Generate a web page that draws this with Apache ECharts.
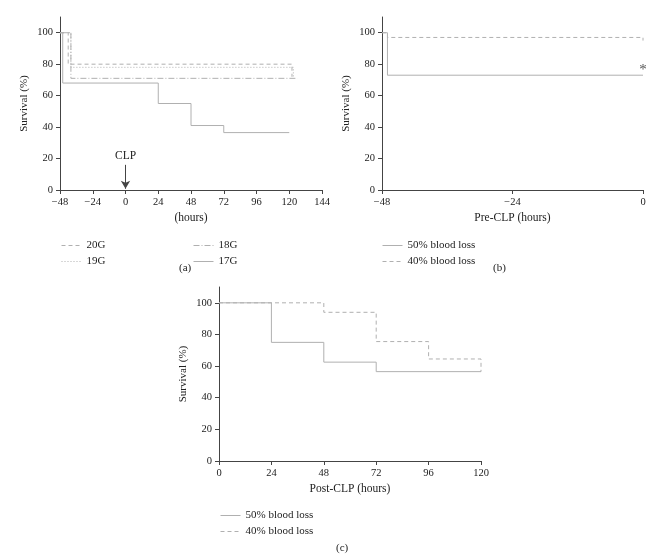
<!DOCTYPE html>
<html>
<head>
<meta charset="utf-8">
<script src="https://cdn.jsdelivr.net/npm/echarts@6/dist/echarts.min.js"></script>
<style>html,body{margin:0;padding:0;background:#fff}#c{width:668px;height:557px}</style>
</head>
<body>
<div id="c"></div>
<script>
// Panel (a): survival (%) by catheter gauge, time in hours relative to CLP
const a20G = [[-48,100],[-42,80],[122,72]];
const a19G = [[-48,100],[-40,78],[123,72]];
const a18G = [[-48,100],[-40,71],[126,71]];
const a17G = [[-48,100],[-46,68],[24,55],[48,41],[72,36.5],[120,36.5]];
// Panel (b): pre-CLP survival
const b50 = [[-48,100],[-47,73],[0,73]];
const b40 = [[-48,100],[-47,97],[0,95]];
// Panel (c): post-CLP survival
const c50 = [[0,100],[24,75],[48,62.5],[72,56.5],[120,56.5]];
const c40 = [[0,100],[48,94],[72,75.5],[96,64.5],[120,56.5]];
const yTicks = [0,20,40,60,80,100];

const FONT = 'Liberation Serif';
const GRAY = '#b0b0b0';
const AX = '#444';
const TXT = '#222';

function xAxis(gi, min, max, interval, name, gap){
  return {
    type:'value', gridIndex:gi, min:min, max:max, interval:interval,
    name:name, nameLocation:'middle', nameGap:gap,
    nameTextStyle:{fontFamily:FONT, fontSize:11.5, color:TXT},
    axisLine:{show:true, onZero:false, lineStyle:{color:AX, width:1}},
    axisTick:{show:true, length:4, lineStyle:{color:AX}},
    axisLabel:{fontFamily:FONT, fontSize:10.5, color:TXT, margin:7,
      formatter:v=>String(v).replace('-','\u2212')},
    splitLine:{show:false}
  };
}
function yAxis(gi){
  return {
    type:'value', gridIndex:gi, min:0, max:110,
    name:'Survival (%)', nameLocation:'middle', nameGap:30, nameRotate:90,
    nameTextStyle:{fontFamily:FONT, fontSize:11, color:TXT},
    axisLine:{show:true, onZero:false, lineStyle:{color:AX, width:1}},
    axisTick:{show:true, length:4, lineStyle:{color:AX}, customValues:yTicks},
    axisLabel:{fontFamily:FONT, fontSize:10.5, color:TXT, margin:7, customValues:yTicks},
    splitLine:{show:false}
  };
}
function ser(name, data, gi, type, extra){
  return Object.assign({
    name:name, type:'line', step:'end', data:data, xAxisIndex:gi, yAxisIndex:gi,
    symbol:'none', showSymbol:false, animation:false,
    lineStyle:{color:GRAY, width:1, type:type}, itemStyle:{color:GRAY}
  }, extra||{});
}
const legendCommon = {
  orient:'vertical', itemWidth:20, itemHeight:10, itemGap:5,
  itemStyle:{color:'rgba(0,0,0,0)', borderWidth:0, opacity:0},
  lineStyle:{width:1},
  textStyle:{fontFamily:FONT, fontSize:11, color:TXT}, selectedMode:false
};

const option = {
  animation:false,
  backgroundColor:'#fff',
  title:[
    {text:'(a)', left:174, top:258, textStyle:{fontFamily:FONT, fontSize:11, fontWeight:'normal', color:TXT}},
    {text:'(b)', left:488, top:258, textStyle:{fontFamily:FONT, fontSize:11, fontWeight:'normal', color:TXT}},
    {text:'(c)', left:331, top:538, textStyle:{fontFamily:FONT, fontSize:11, fontWeight:'normal', color:TXT}}
  ],
  grid:[
    {left:60, right:346, top:17, bottom:367},
    {left:382, right:25, top:17, bottom:367},
    {left:219, right:187, top:287, bottom:96}
  ],
  xAxis:[
    xAxis(0,-48,144,24,'(hours)',22),
    xAxis(1,-48,0,24,'Pre-CLP (hours)',22),
    xAxis(2,0,120,24,'Post-CLP (hours)',22)
  ],
  yAxis:[yAxis(0), yAxis(1), yAxis(2)],
  legend:[
    Object.assign({}, legendCommon, {left:56, top:235, data:['20G','19G']}),
    Object.assign({}, legendCommon, {left:188, top:235, data:['18G','17G']}),
    Object.assign({}, legendCommon, {left:377, top:235, data:['50% blood loss','40% blood loss']}),
    Object.assign({}, legendCommon, {left:215, top:505, data:['50% blood loss','40% blood loss']})
  ],
  series:[
    ser('20G', a20G, 0, [4,3]),
    ser('19G', a19G, 0, [1,2]),
    ser('18G', a18G, 0, [6,2,1,2]),
    ser('17G', a17G, 0, 'solid', {
      markLine:{
        silent:true, symbol:['none','arrow'], symbolSize:[7,8], animation:false,
        lineStyle:{color:AX, type:'solid', width:1},
        label:{show:true, position:'start', formatter:'CLP', fontFamily:FONT, fontSize:11.5, color:TXT, distance:3},
        data:[[{coord:[0,16]},{coord:[0,0.8]}]]
      }
    }),
    ser('50% blood loss', b50, 1, 'solid', {
      markPoint:{
        silent:true, symbol:'circle', symbolSize:1, animation:false,
        itemStyle:{color:'rgba(0,0,0,0)'},
        label:{show:true, position:'inside', formatter:'*', fontFamily:FONT, fontSize:15, color:'#555'},
        data:[{coord:[0,76]}]
      }
    }),
    ser('40% blood loss', b40, 1, [4,3]),
    ser('50% blood loss', c50, 2, 'solid'),
    ser('40% blood loss', c40, 2, [4,3])
  ]
};
const chart = echarts.init(document.getElementById('c'), null, {renderer:'canvas'});
chart.setOption(option);
</script>
</body>
</html>
